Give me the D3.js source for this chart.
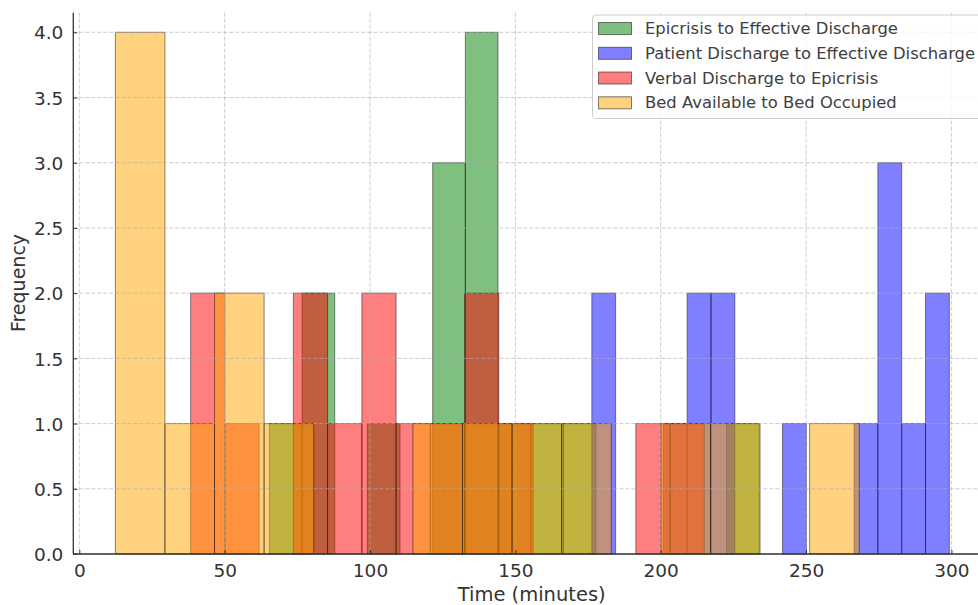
<!DOCTYPE html>
<html>
<head>
<meta charset="utf-8">
<script src="https://cdn.jsdelivr.net/npm/d3@7"></script>
<style>
  body { margin: 0; background: #fff; }
  svg { display: block; font-family: "DejaVu Sans", sans-serif; }
</style>
</head>
<body>
<svg id="chart" width="978" height="605"></svg>
<script>
// ---- data ----
const seriesNames = [
  "Epicrisis to Effective Discharge",
  "Patient Discharge to Effective Discharge",
  "Verbal Discharge to Epicrisis",
  "Bed Available to Bed Occupied"
];
const seriesColors = ["green", "blue", "red", "orange"];
// each histogram: 15 equal-width bins between min and max of its data
const epicrisisRange = [65.4, 233.9];
const epicrisisCounts = [1, 2, 0, 1, 0, 3, 4, 1, 1, 1, 0, 0, 0, 0, 1];
const patientRange = [176.3, 299.3];
const patientCounts = [2, 0, 0, 1, 2, 2, 0, 0, 1, 0, 0, 1, 3, 1, 2];
const verbalRange = [38.3, 215.0];
const verbalCounts = [2, 1, 0, 2, 1, 2, 1, 1, 2, 1, 0, 0, 0, 1, 1];
const bedRange = [12.4, 268.3];
const bedCounts = [4, 1, 2, 1, 0, 0, 1, 1, 1, 1, 0, 1, 1, 0, 1];
const xTicks = [0, 50, 100, 150, 200, 250, 300];
const yTicks = [0, 0.5, 1.0, 1.5, 2.0, 2.5, 3.0, 3.5, 4.0];

const ranges = [epicrisisRange, patientRange, verbalRange, bedRange];
const counts = [epicrisisCounts, patientCounts, verbalCounts, bedCounts];

(function () {
// ---- layout ----
const svg = d3.select("#chart");
const pLeft = 73.3, pBottom = 554, pTop = 12.7, pRight = 978;
const x = d3.scaleLinear().domain([0, 300]).range([79.3, 951.4]);
const y = d3.scaleLinear().domain([0, 4]).range([554, 32.3]);

// bars
seriesNames.forEach((name, si) => {
  const [lo, hi] = ranges[si];
  const n = counts[si].length;
  const w = (hi - lo) / n;
  const bins = counts[si].map((c, i) => ({ x0: lo + i * w, x1: lo + (i + 1) * w, c }));
  svg.append("g").selectAll("rect")
    .data(bins.filter(b => b.c > 0))
    .join("rect")
    .attr("x", d => x(d.x0))
    .attr("width", d => x(d.x1) - x(d.x0))
    .attr("y", d => y(d.c))
    .attr("height", d => y(0) - y(d.c))
    .attr("fill", seriesColors[si])
    .attr("fill-opacity", 0.5)
    .attr("stroke", "black")
    .attr("stroke-opacity", 0.45)
    .attr("stroke-width", 1);
});

// grid (drawn above bars, as in the reference)
const grid = svg.append("g").attr("stroke", "#b0b0b0").attr("stroke-opacity", 0.7)
  .attr("stroke-dasharray", "4,2").attr("stroke-width", 0.9);
grid.selectAll("line.v").data(xTicks).join("line").attr("class", "v")
  .attr("x1", d => x(d)).attr("x2", d => x(d)).attr("y1", pTop).attr("y2", pBottom);
grid.selectAll("line.h").data(yTicks).join("line").attr("class", "h")
  .attr("y1", d => y(d)).attr("y2", d => y(d)).attr("x1", pLeft).attr("x2", pRight);

// axes
const xAxis = d3.axisBottom(x).tickValues(xTicks).tickSize(-4).tickPadding(10).tickFormat(d3.format("d"));
const yAxis = d3.axisLeft(y).tickValues(yTicks).tickSize(-4).tickPadding(10).tickFormat(d3.format(".1f"));
const gx = svg.append("g").attr("transform", `translate(0,${pBottom})`).call(xAxis);
const gy = svg.append("g").attr("transform", `translate(${pLeft},0)`).call(yAxis);
[gx, gy].forEach(g => {
  g.select(".domain").remove();
  g.selectAll(".tick line").attr("stroke", "#333").attr("stroke-width", 1);
  g.selectAll(".tick text").attr("fill", "#333").style("font-size", "18.5px")
    .style("font-family", "DejaVu Sans, sans-serif");
});
gy.selectAll(".tick text").attr("dy", "0.36em");
// spines
svg.append("line").attr("x1", pLeft).attr("x2", pRight).attr("y1", pBottom).attr("y2", pBottom)
  .attr("stroke", "#333").attr("stroke-width", 1.3);
svg.append("line").attr("x1", pLeft).attr("x2", pLeft).attr("y1", pTop).attr("y2", pBottom)
  .attr("stroke", "#333").attr("stroke-width", 1.3);

// axis labels
svg.append("text").attr("x", 531.7).attr("y", 594).attr("text-anchor", "middle")
  .attr("dominant-baseline", "central").attr("fill", "#333").style("font-size", "19.5px")
  .text("Time (minutes)");
svg.append("text").attr("transform", "translate(18,283) rotate(-90)").attr("text-anchor", "middle")
  .attr("dominant-baseline", "central").attr("fill", "#333").style("font-size", "19px")
  .text("Frequency");

// legend
const lg = svg.append("g");
lg.append("rect").attr("x", 592.5).attr("y", 15).attr("width", 420).attr("height", 103.5)
  .attr("rx", 3).attr("fill", "white").attr("fill-opacity", 0.8)
  .attr("stroke", "#cccccc").attr("stroke-width", 1);
const legendY = [28.5, 53.3, 78, 102.8];
seriesNames.forEach((name, i) => {
  lg.append("rect").attr("x", 598.5).attr("y", legendY[i] - 6).attr("width", 33).attr("height", 12)
    .attr("fill", seriesColors[i]).attr("fill-opacity", 0.5)
    .attr("stroke", "black").attr("stroke-opacity", 0.5).attr("stroke-width", 1);
  lg.append("text").attr("x", 645).attr("y", legendY[i]).attr("dominant-baseline", "central")
    .attr("fill", "#404040").style("font-size", "16.4px").text(name);
});
})();
</script>
</body>
</html>
